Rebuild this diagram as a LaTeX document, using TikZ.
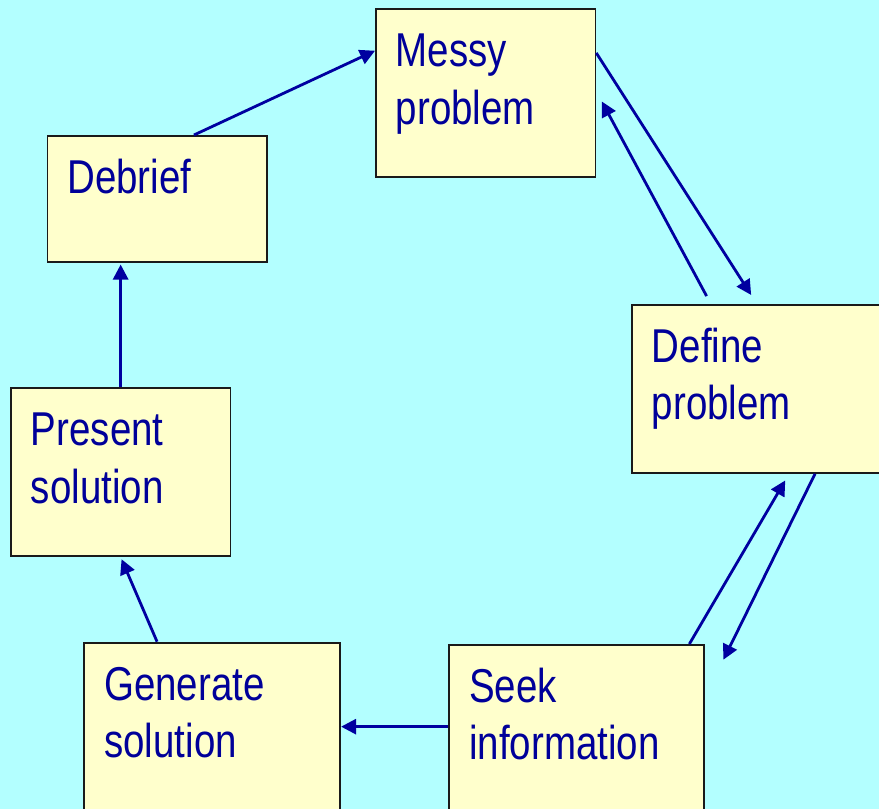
\documentclass[tikz,border=0pt]{standalone}
\usepackage{fontspec}
\setmainfont{Liberation Sans}[FakeStretch=0.81]
\usepackage{tikz}
\usetikzlibrary{arrows.meta,positioning,calc}

\definecolor{bgcyan}{RGB}{179,255,255}
\definecolor{boxfill}{RGB}{255,255,204}
\definecolor{boxline}{RGB}{26,26,26}
\definecolor{inkblue}{RGB}{0,0,153}
\definecolor{arrowblue}{RGB}{0,0,160}

\begin{document}
\begin{tikzpicture}[x=1pt, y=-1pt, >={Triangle[length=15pt, width=15pt]},
    stage/.style={draw=boxline, fill=boxfill, line width=1.8pt, text=inkblue, anchor=north west,
        font=\fontsize{47.5}{57.5}\selectfont, align=left, inner xsep=20pt, inner ysep=0pt,
        text height=57.5pt, text depth=110.5pt},
    narrow/.style={stage, text width=179.5pt},
    wide/.style={stage, text width=216pt},
    flow/.style={->, draw=arrowblue, line width=2.8pt}]

    \useasboundingbox (0,0) rectangle (879,809);
    \fill[bgcyan] (0,0) rectangle (879,809);
    \clip (0,0) rectangle (879,809);

    % Stages
    \node[narrow] (messy) at (375,8.3) {Messy\\problem};
    \node[narrow, text depth=68.2pt] (debrief) at (46.5,135) {Debrief};
    \node[wide] (define) at (631,304) {Define\\problem};
    \node[narrow] (present) at (10,387.3) {Present\\solution};
    \node[wide] (generate) at (83.3,641.7) {Generate\\solution};
    \node[wide, text width=215pt] (seek) at (448.3,644) {Seek\\information};

    % Connections
    \draw[flow] (debrief.60.5) -- (messy.159.5);
    \draw[flow, shorten >=10.7pt] (messy.20.7) -- (define.92.3);
    \draw[flow, shorten <=9pt, shorten >=11.6pt] (define.120.6) -- (messy.1.4);
    \draw[flow, shorten >=41.5pt] (define.-57.1) -- (seek.14.8);
    \draw[flow, shorten >=7.7pt] (seek.37.4) -- (define.-71.8);
    \draw[flow] (seek.179) -- (seek.179 -| generate.east);
    \draw[flow, shorten >=2.3pt] (generate.123.5) -- (present.-90.5);
    \draw[flow, shorten >=2pt] (present.north) -- (present.north |- debrief.south);

\end{tikzpicture}
\end{document}
